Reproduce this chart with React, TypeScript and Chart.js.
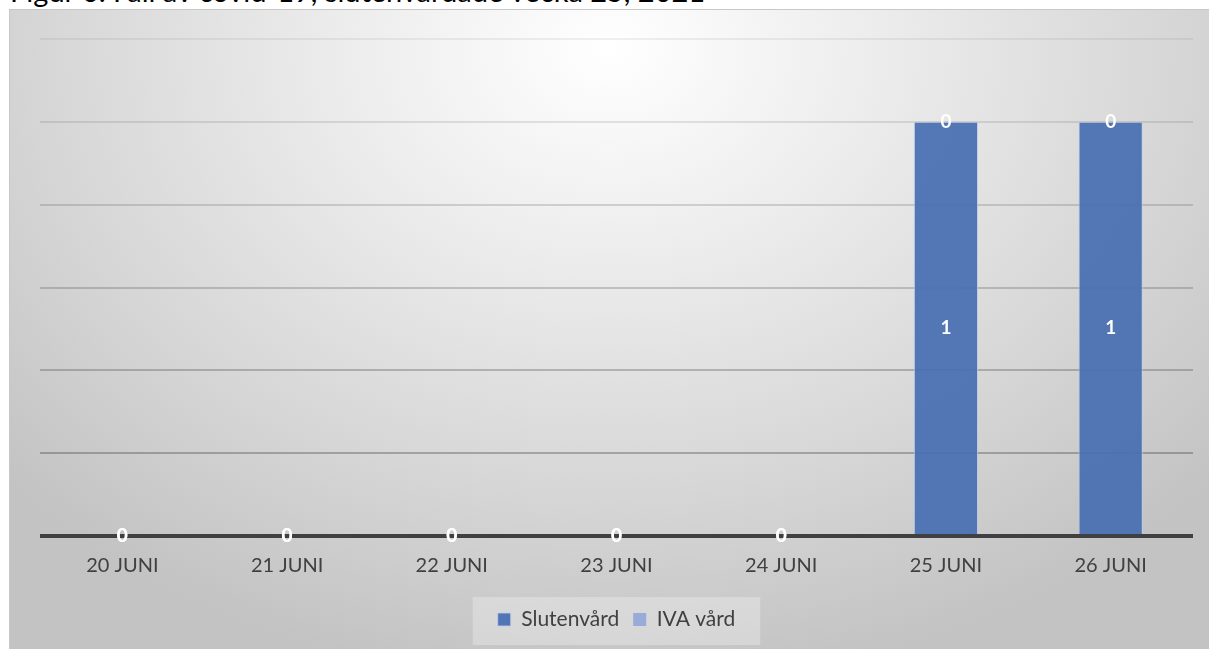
import React, { useEffect, useRef } from "react";
import { Chart, registerables } from "chart.js";

Chart.register(...registerables);

const TITLE = "Figur 6. Fall av covid-19, slutenvårdade vecka 25, 2021";
const categories = ["20 JUNI", "21 JUNI", "22 JUNI", "23 JUNI", "24 JUNI", "25 JUNI", "26 JUNI"];
const slutenvard = [0, 0, 0, 0, 0, 1, 1];
const ivaVard = [0, 0, 0, 0, 0, 0, 0];
const yMax = 1.2;
const yStep = 0.2;

const FONT = "Lato, 'Open Sans', sans-serif";

const labelPlugin = {
  id: "barLabels",
  afterDatasetsDraw(chart: any) {
    const ctx = chart.ctx;
    ctx.save();
    ctx.font = `bold 19px ${FONT}`;
    ctx.fillStyle = "#ffffff";
    ctx.textAlign = "center";
    ctx.textBaseline = "middle";
    chart.data.datasets.forEach((ds: any, di: number) => {
      const meta = chart.getDatasetMeta(di);
      meta.data.forEach((el: any, i: number) => {
        const v = ds.data[i];
        const cy = (el.y + el.base) / 2;
        ctx.fillText(String(v), el.x, cy);
      });
    });
    ctx.restore();
  },
};

const legendBgPlugin = {
  id: "legendBg",
  beforeDraw(chart: any) {
    const lg = chart.legend;
    if (!lg || !lg.legendHitBoxes || !lg.legendHitBoxes.length) return;
    const boxes = lg.legendHitBoxes;
    const left = Math.min(...boxes.map((b: any) => b.left)) - 25;
    const right = Math.max(...boxes.map((b: any) => b.left + b.width)) + 25;
    const top = Math.min(...boxes.map((b: any) => b.top)) - 12;
    const bottom = Math.max(...boxes.map((b: any) => b.top + b.height)) + 15;
    const ctx = chart.ctx;
    ctx.save();
    ctx.fillStyle = "rgba(255,255,255,0.28)";
    ctx.fillRect(left, top, right - left, bottom - top);
    ctx.restore();
  },
};

export default function App() {
  const ref = useRef<HTMLCanvasElement | null>(null);
  useEffect(() => {
    if (!ref.current) return;
    const chart = new Chart(ref.current, {
      type: "bar",
      data: {
        labels: categories,
        datasets: [
          {
            label: "Slutenvård",
            data: slutenvard,
            backgroundColor: "rgba(72,110,178,0.93)",
            borderColor: "rgba(190,205,235,0.8)",
            borderWidth: 1,
            categoryPercentage: 0.39,
            barPercentage: 1,
          },
          {
            label: "IVA vård",
            data: ivaVard,
            backgroundColor: "rgba(150,170,215,0.95)",
            borderColor: "rgba(200,212,238,0.8)",
            borderWidth: 0,
            categoryPercentage: 0.39,
            barPercentage: 1,
          },
        ],
      },
      options: {
        animation: false,
        responsive: false,
        maintainAspectRatio: false,
        layout: { padding: { left: 30, right: 17, top: 29, bottom: 10 } },
        plugins: {
          tooltip: { enabled: false },
          title: { display: false },
          legend: {
            position: "bottom",
            labels: {
              boxWidth: 13,
              boxHeight: 13,
              padding: 14,
              color: "#404040",
              font: { family: FONT, size: 21 },
            },
          },
        },
        scales: {
          x: {
            stacked: true,
            grid: { display: false, drawTicks: false },
            border: { display: false },
            ticks: {
              color: "#404040",
              font: { family: FONT, size: 20 },
              padding: 18,
            },
            afterFit(s: any) {
              s.height = 59;
            },
          },
          y: {
            stacked: true,
            min: 0,
            max: yMax,
            ticks: { display: false, stepSize: yStep },
            border: { display: false },
            grid: {
              drawTicks: false,
              color: (c: any) => {
                const v = c.tick ? c.tick.value : 0;
                if (Math.abs(v) < 1e-9) return "#404040";
                const a = 0.08 + (1 - v / yMax) * 0.32;
                return `rgba(60,60,60,${a.toFixed(3)})`;
              },
              lineWidth: (c: any) => {
                const v = c.tick ? c.tick.value : 0;
                return Math.abs(v) < 1e-9 ? 4 : 2;
              },
            },
            afterFit(s: any) {
              s.width = 0;
            },
          },
        },
      },
      plugins: [labelPlugin, legendBgPlugin],
    });
    return () => chart.destroy();
  }, []);

  return (
    <div
      style={{
        position: "fixed",
        left: 0,
        top: 0,
        width: 1209,
        height: 649,
        overflow: "hidden",
        background: "#ffffff",
      }}
    >
      <div
        style={{
          position: "absolute",
          left: 10,
          top: -24,
          fontFamily: FONT,
          fontSize: 29,
          lineHeight: "29px",
          color: "#000",
          whiteSpace: "nowrap",
        }}
      >
        {TITLE}
      </div>
      <div
        style={{
          position: "absolute",
          left: 9,
          top: 9,
          width: 1200,
          height: 640,
          boxSizing: "border-box",
          borderTop: "1px solid #c8c8c8",
          borderLeft: "1px solid #c8c8c8",
          background:
            "radial-gradient(ellipse 68% 100% at 50% 6%, #ffffff 0%, #ebebeb 35%, #d6d6d6 70%, #c3c3c3 100%)",
        }}
      >
        <canvas ref={ref} width={1200} height={640} style={{ display: "block" }} />
      </div>
    </div>
  );
}
